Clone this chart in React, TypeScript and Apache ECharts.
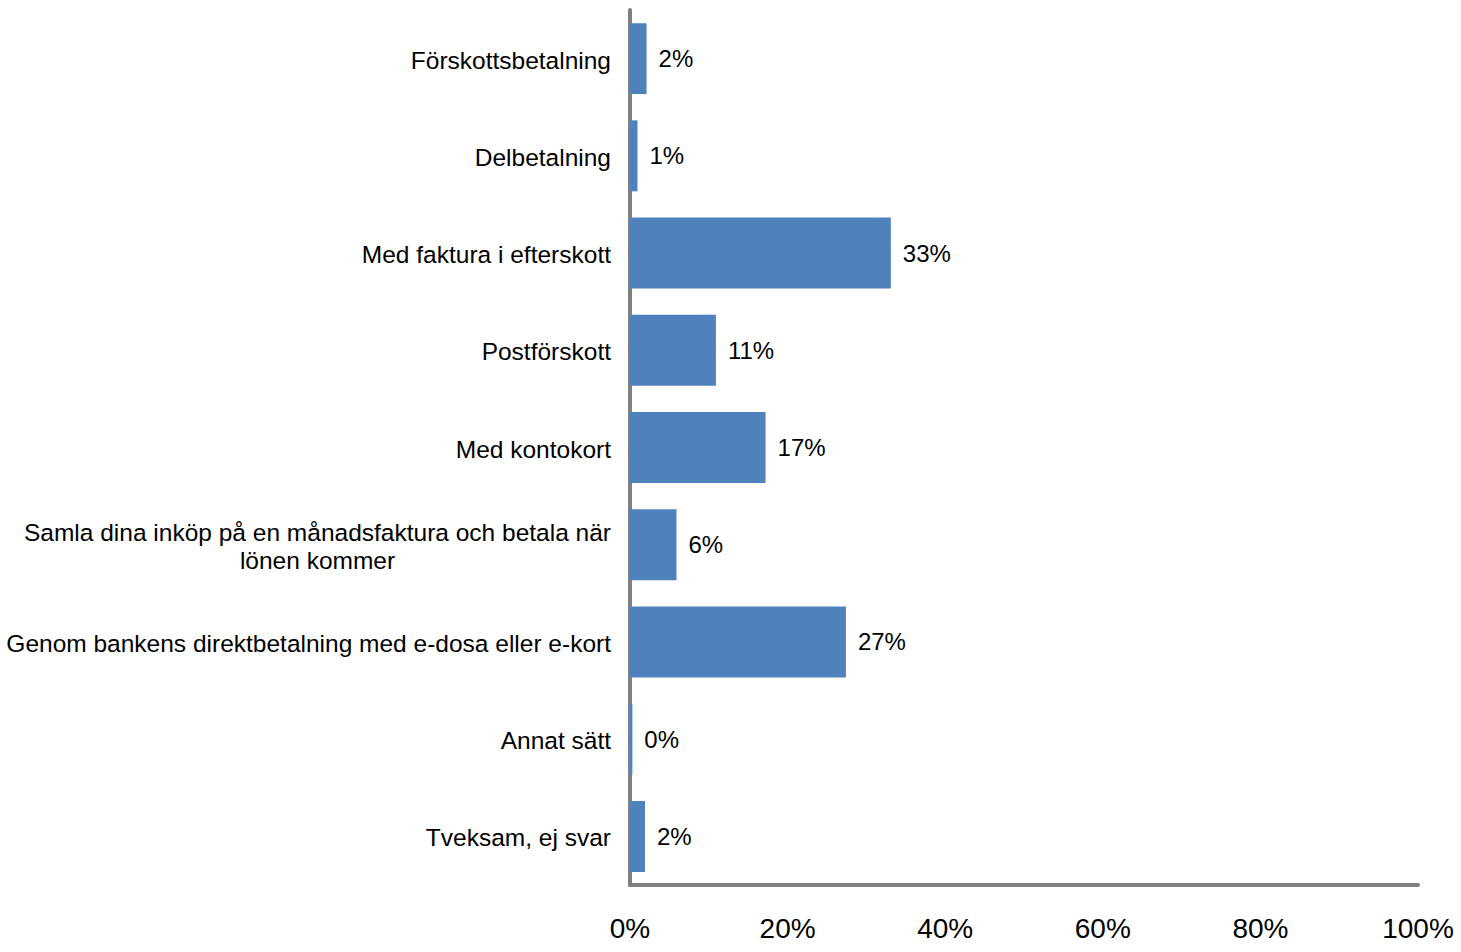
import React, { useEffect, useRef } from "react";
import * as echarts from "echarts";

const categories: string[] = [
  "Förskottsbetalning",
  "Delbetalning",
  "Med faktura i efterskott",
  "Postförskott",
  "Med kontokort",
  "Samla dina inköp på en månadsfaktura och betala när\nlönen kommer",
  "Genom bankens direktbetalning med e-dosa eller e-kort",
  "Annat sätt",
  "Tveksam, ej svar",
];

const values: number[] = [2.1, 0.95, 33.1, 10.9, 17.2, 5.9, 27.4, 0.3, 1.9];

const xTicks = { min: 0, max: 100, interval: 20 };

const FONT = "'Liberation Sans', Arial, sans-serif";

export default function App() {
  const ref = useRef<HTMLDivElement>(null);

  useEffect(() => {
    if (!ref.current) return;
    const chart = echarts.init(ref.current, null, { renderer: "svg" });
    chart.setOption({
      animation: false,
      backgroundColor: "#ffffff",
      grid: { left: 630, right: 43, top: 10, bottom: 67, containLabel: false },
      xAxis: {
        type: "value",
        min: xTicks.min,
        max: xTicks.max,
        interval: xTicks.interval,
        splitLine: { show: false },
        axisTick: { show: false },
        axisLine: { show: true, lineStyle: { color: "#808080", width: 4 } },
        axisLabel: {
          formatter: "{value}%",
          fontSize: 28,
          fontFamily: FONT,
          color: "#000000",
          margin: 29,
        },
      },
      yAxis: {
        type: "category",
        data: categories,
        inverse: true,
        axisTick: { show: false },
        axisLine: { show: true, lineStyle: { color: "#808080", width: 4 } },
        axisLabel: {
          fontSize: 24.5,
          fontFamily: FONT,
          color: "#000000",
          margin: 19,
          padding: [3, 0, 0, 0],
          formatter: (v: string) =>
            v.includes("\n")
              ? v
                  .split("\n")
                  .map((s) => `{c|${s}}`)
                  .join("\n")
              : v,
          rich: {
            c: {
              fontSize: 24.5,
              fontFamily: FONT,
              color: "#000000",
              lineHeight: 28,
              align: "center",
            },
          },
        },
      },
      series: [
        {
          type: "bar",
          data: values,
          barCategoryGap: "27%",
          itemStyle: { color: "#4F81BD" },
          label: {
            show: true,
            position: "right",
            distance: 12,
            fontSize: 24,
            fontFamily: FONT,
            color: "#000000",
            padding: [3, 0, 0, 0],
            formatter: (p: any) => `${Math.round(p.value)}%`,
          },
        },
      ],
    });
    return () => chart.dispose();
  }, []);

  return (
    <div
      ref={ref}
      style={{ position: "fixed", left: 0, top: 0, width: 1461, height: 952, background: "#fff" }}
    />
  );
}
